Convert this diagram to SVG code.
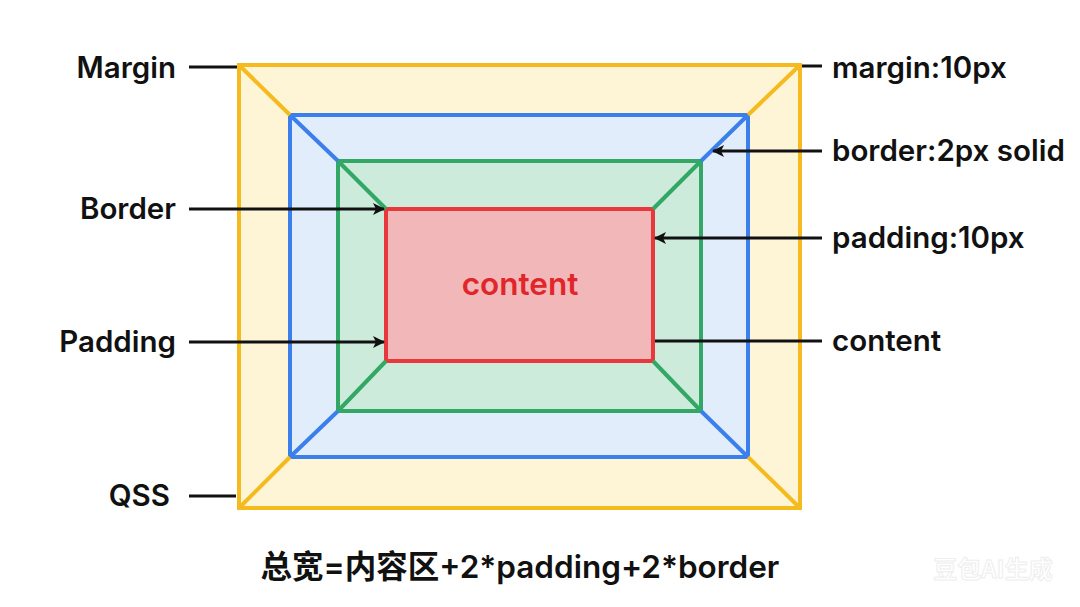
<svg xmlns="http://www.w3.org/2000/svg" width="1080" height="607" viewBox="0 0 1080 607">
<defs>
<marker id="ah" viewBox="0 0 12 12" refX="11" refY="6" markerWidth="12" markerHeight="12" markerUnits="userSpaceOnUse" orient="auto">
<path d="M0,0 L12,6 L0,12 L3,6 Z" fill="#111"/>
</marker>
<style>
.lbl{font-family:Inter,"Liberation Sans",sans-serif;font-size:29.5px;font-weight:600;fill:#111}
.ln{stroke:#111;stroke-width:3;fill:none}
.y{stroke:#F5BA1E;stroke-width:4}
.b{stroke:#3A7FEB;stroke-width:4}
.g{stroke:#33A866;stroke-width:4}
.r{stroke:#E8383B;stroke-width:4}
</style>
</defs>
<rect width="1080" height="607" fill="#fff"/>
<g id="margin-box">
<rect x="239" y="65" width="561" height="443" fill="#FEF4D6" class="y"/>
</g>
<g id="border-box">
<rect x="290" y="115" width="458" height="342" fill="#E1EDFB" class="b"/>
</g>
<g id="padding-box">
<rect x="338" y="161" width="363" height="250" fill="#CDEBDA" class="g"/>
</g>
<g id="content-box">
<rect x="386" y="209" width="267" height="152" fill="#F2B8B9" class="r"/>
<text x="520" y="295" text-anchor="middle" style="font-family:Inter,'Liberation Sans',sans-serif;font-size:31.5px;font-weight:600;fill:#E0262B">content</text>
</g>
<g id="diagonals">
<line x1="239" y1="65" x2="290" y2="115" class="y"/>
<line x1="800" y1="65" x2="748" y2="115" class="y"/>
<line x1="239" y1="508" x2="290" y2="457" class="y"/>
<line x1="800" y1="508" x2="748" y2="457" class="y"/>
<line x1="290" y1="115" x2="338" y2="161" class="b"/>
<line x1="748" y1="115" x2="701" y2="161" class="b"/>
<line x1="290" y1="457" x2="338" y2="411" class="b"/>
<line x1="748" y1="457" x2="701" y2="411" class="b"/>
<line x1="338" y1="161" x2="386" y2="209" class="g"/>
<line x1="701" y1="161" x2="653" y2="209" class="g"/>
<line x1="338" y1="411" x2="386" y2="361" class="g"/>
<line x1="701" y1="411" x2="653" y2="361" class="g"/>
</g>
<g id="connectors">
<line x1="189" y1="67" x2="237" y2="67" class="ln"/>
<line x1="189" y1="209" x2="384" y2="209" class="ln" marker-end="url(#ah)"/>
<line x1="189" y1="342" x2="384" y2="342" class="ln" marker-end="url(#ah)"/>
<line x1="189" y1="496" x2="236" y2="496" class="ln"/>
<line x1="802" y1="66" x2="822" y2="66" class="ln"/>
<line x1="822" y1="151" x2="713" y2="151" class="ln" marker-end="url(#ah)"/>
<line x1="822" y1="238" x2="655" y2="238" class="ln" marker-end="url(#ah)"/>
<line x1="655" y1="341" x2="822" y2="341" class="ln"/>
</g>
<g id="labels-left">
<text x="176" y="78" text-anchor="end" class="lbl">Margin</text>
<text x="176" y="219" text-anchor="end" class="lbl">Border</text>
<text x="176" y="352" text-anchor="end" class="lbl">Padding</text>
<text x="170" y="506" text-anchor="end" class="lbl">QSS</text>
</g>
<g id="labels-right">
<text x="832" y="78" class="lbl">margin:10px</text>
<text x="832" y="161" class="lbl">border:2px solid</text>
<text x="832" y="248" class="lbl">padding:10px</text>
<text x="832" y="351" class="lbl">content</text>
</g>
<g id="formula">
<text x="520" y="578" text-anchor="middle" style="font-family:Inter,'Noto Sans CJK SC',sans-serif;font-size:31.5px;font-weight:600;fill:#111">总宽=内容区+2*padding+2*border</text>
</g>
<g id="watermark">
<text x="993" y="578" text-anchor="middle" style="font-family:'Noto Sans CJK SC',sans-serif;font-size:24px;font-weight:700;fill:#fff;stroke:#eee;stroke-width:1">豆包AI生成</text>
</g>
</svg>
